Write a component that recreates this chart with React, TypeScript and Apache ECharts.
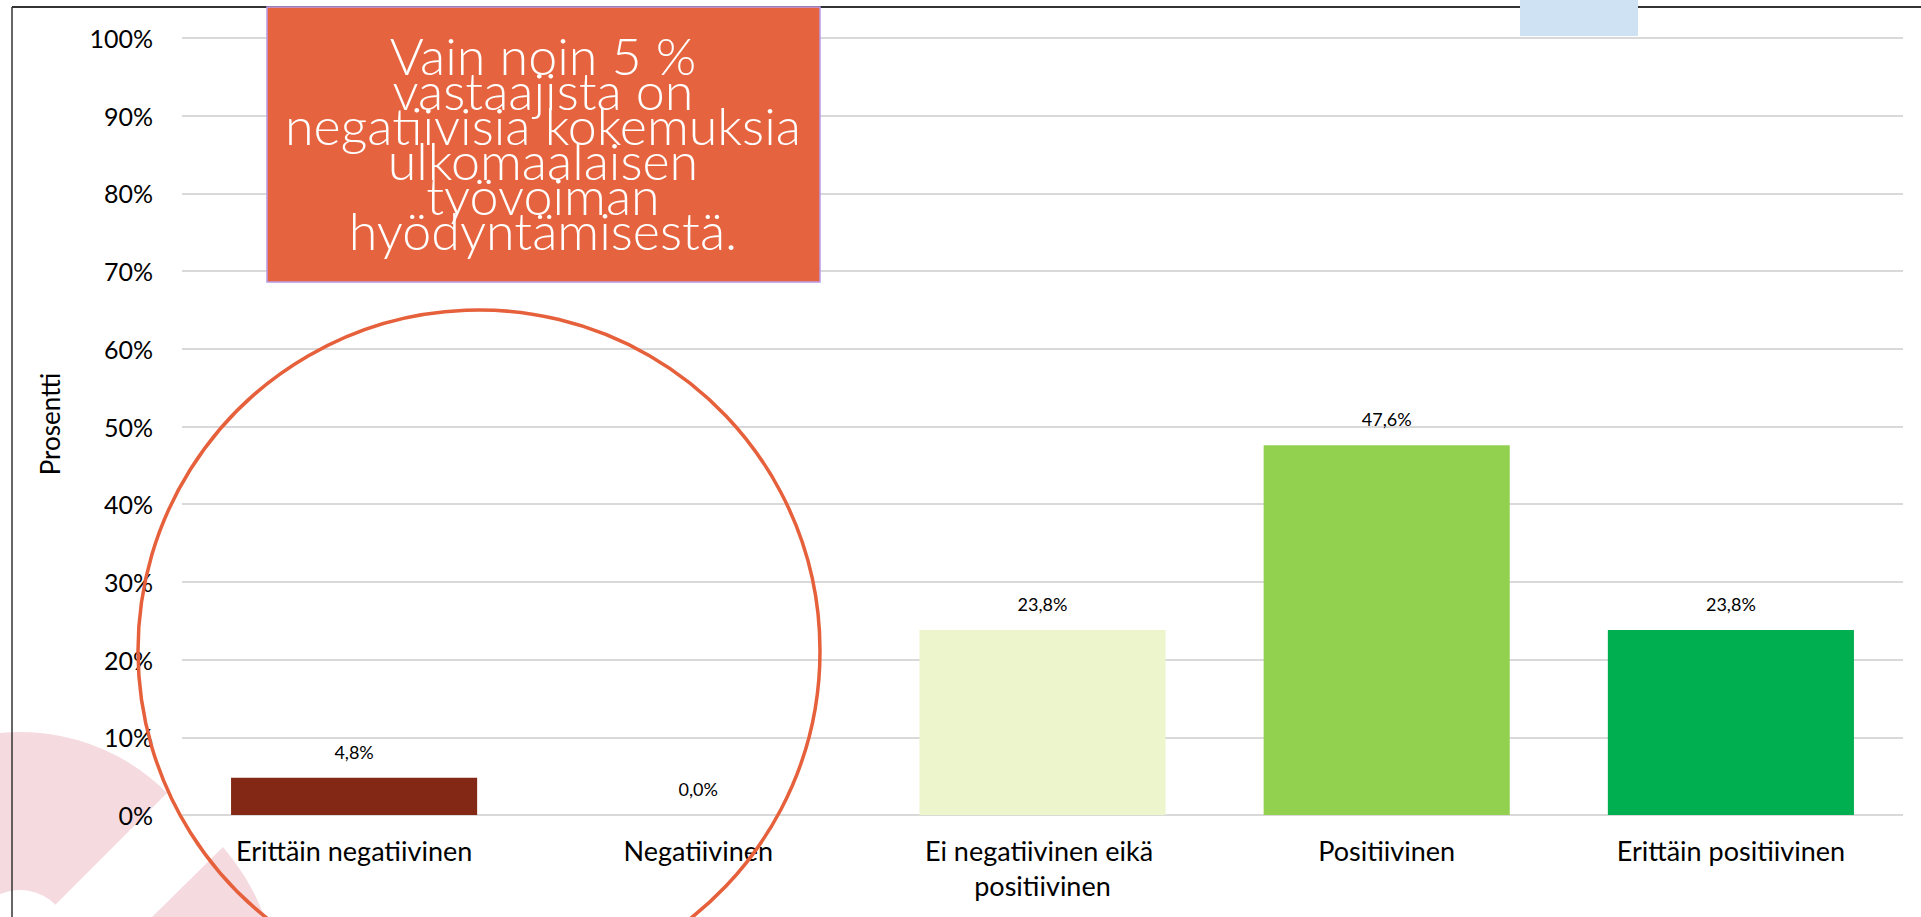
import React, { useEffect, useRef } from "react";
import * as echarts from "echarts";

const categories = [
  "Erittäin negatiivinen",
  "Negatiivinen",
  "Ei negatiivinen eikä positiivinen",
  "Positiivinen",
  "Erittäin positiivinen",
];
const values = [4.8, 0.0, 23.8, 47.6, 23.8];
const barColors = ["#832814", "#832814", "#ECF5CC", "#92D050", "#00B050"];
const yMin = 0;
const yMax = 100;
const yInterval = 10;
const yAxisTitle = "Prosentti";
const calloutText = [
  "Vain noin 5 %",
  "vastaajista on",
  "negatiivisia kokemuksia",
  "ulkomaalaisen",
  "työvoiman",
  "hyödyntämisestä.",
];

const FONT = "Lato, 'Noto Sans', sans-serif";

export default function App() {
  const ref = useRef<HTMLDivElement>(null);
  useEffect(() => {
    if (!ref.current) return;
    const chart = echarts.init(ref.current, null, { renderer: "svg" });
    const fmt = (v: number) => v.toFixed(1).replace(".", ",") + "%";
    chart.setOption({
      animation: false,
      backgroundColor: "#ffffff",
      grid: {
        left: 182,
        right: 18,
        top: 38,
        bottom: 102,
        containLabel: false,
        outerBoundsMode: "none",
      },
      xAxis: {
        type: "category",
        data: categories,
        axisLine: { show: false },
        axisTick: { show: false },
        axisLabel: {
          interval: 0,
          margin: 18,
          color: "#000000",
          fontFamily: FONT,
          fontSize: 27,
          lineHeight: 35,
          width: 320,
          overflow: "break",
        },
      },
      yAxis: {
        type: "value",
        min: yMin,
        max: yMax,
        interval: yInterval,
        axisLine: { show: false },
        axisTick: { show: false },
        axisLabel: {
          margin: 29,
          color: "#000000",
          fontFamily: FONT,
          fontSize: 25,
          formatter: (v: number) => `${v}%`,
        },
        splitLine: { lineStyle: { color: "#d9d9d9", width: 2 } },
      },
      series: [
        {
          type: "bar",
          data: values.map((v, i) => ({ value: v, itemStyle: { color: barColors[i] } })),
          barCategoryGap: "28.5%",
          label: {
            show: true,
            position: "top",
            distance: 17,
            color: "#000000",
            fontFamily: FONT,
            fontSize: 18,
            formatter: (p: any) => fmt(p.value),
          },
        },
      ],
      graphic: [
        // decorative pink shapes (background)
        {
          type: "sector",
          z: -10,
          silent: true,
          shape: {
            cx: 20,
            cy: 940,
            r0: 50,
            r: 208,
            startAngle: -Math.PI,
            endAngle: -Math.PI / 4,
            clockwise: true,
          },
          style: { fill: "#f5dbe0" },
        },
        {
          type: "polygon",
          z: -10,
          silent: true,
          shape: {
            points: [
              [223, 847],
              [234, 861],
              [245, 877],
              [254, 893],
              [261, 908],
              [265, 918],
              [151, 918],
            ],
          },
          style: { fill: "#f5dbe0" },
        },
        // frame lines
        {
          type: "line",
          z: 50,
          silent: true,
          shape: { x1: 12, y1: 7, x2: 1921, y2: 7 },
          style: { stroke: "#333333", lineWidth: 2 },
        },
        {
          type: "line",
          z: 50,
          silent: true,
          shape: { x1: 12, y1: 7, x2: 12, y2: 917 },
          style: { stroke: "#333333", lineWidth: 1.5 },
        },
        // light blue rectangle at top
        {
          type: "rect",
          z: 60,
          silent: true,
          shape: { x: 1520, y: 0, width: 118, height: 36 },
          style: { fill: "#cfe2f3" },
        },
        // y axis title
        {
          type: "text",
          z: 60,
          silent: true,
          x: 50,
          y: 424,
          rotation: Math.PI / 2,
          style: {
            text: yAxisTitle,
            x: 0,
            y: 0,
            align: "center",
            verticalAlign: "middle",
            fill: "#000000",
            fontFamily: FONT,
            fontSize: 26,
          },
        },
        // callout box
        {
          type: "rect",
          z: 70,
          silent: true,
          shape: { x: 267, y: 7, width: 553, height: 275 },
          style: { fill: "#E5643F", stroke: "#B99BE6", lineWidth: 1.5 },
        },
        {
          type: "text",
          z: 71,
          silent: true,
          style: {
            text: calloutText.join("\n"),
            x: 543,
            y: 142,
            align: "center",
            verticalAlign: "middle",
            fill: "#ffffff",
            fontFamily: "'Lato Light', Lato, 'Noto Sans', sans-serif",
            fontWeight: 300,
            fontSize: 52,
            lineHeight: 35,
          },
        },
        // highlight circle
        {
          type: "circle",
          z: 80,
          silent: true,
          shape: { cx: 479, cy: 651, r: 341 },
          style: { fill: "none", stroke: "#E5603B", lineWidth: 3.5 },
        },
      ],
    });
    return () => chart.dispose();
  }, []);
  return (
    <div
      ref={ref}
      style={{ position: "fixed", left: 0, top: 0, width: 1921, height: 917 }}
    />
  );
}
